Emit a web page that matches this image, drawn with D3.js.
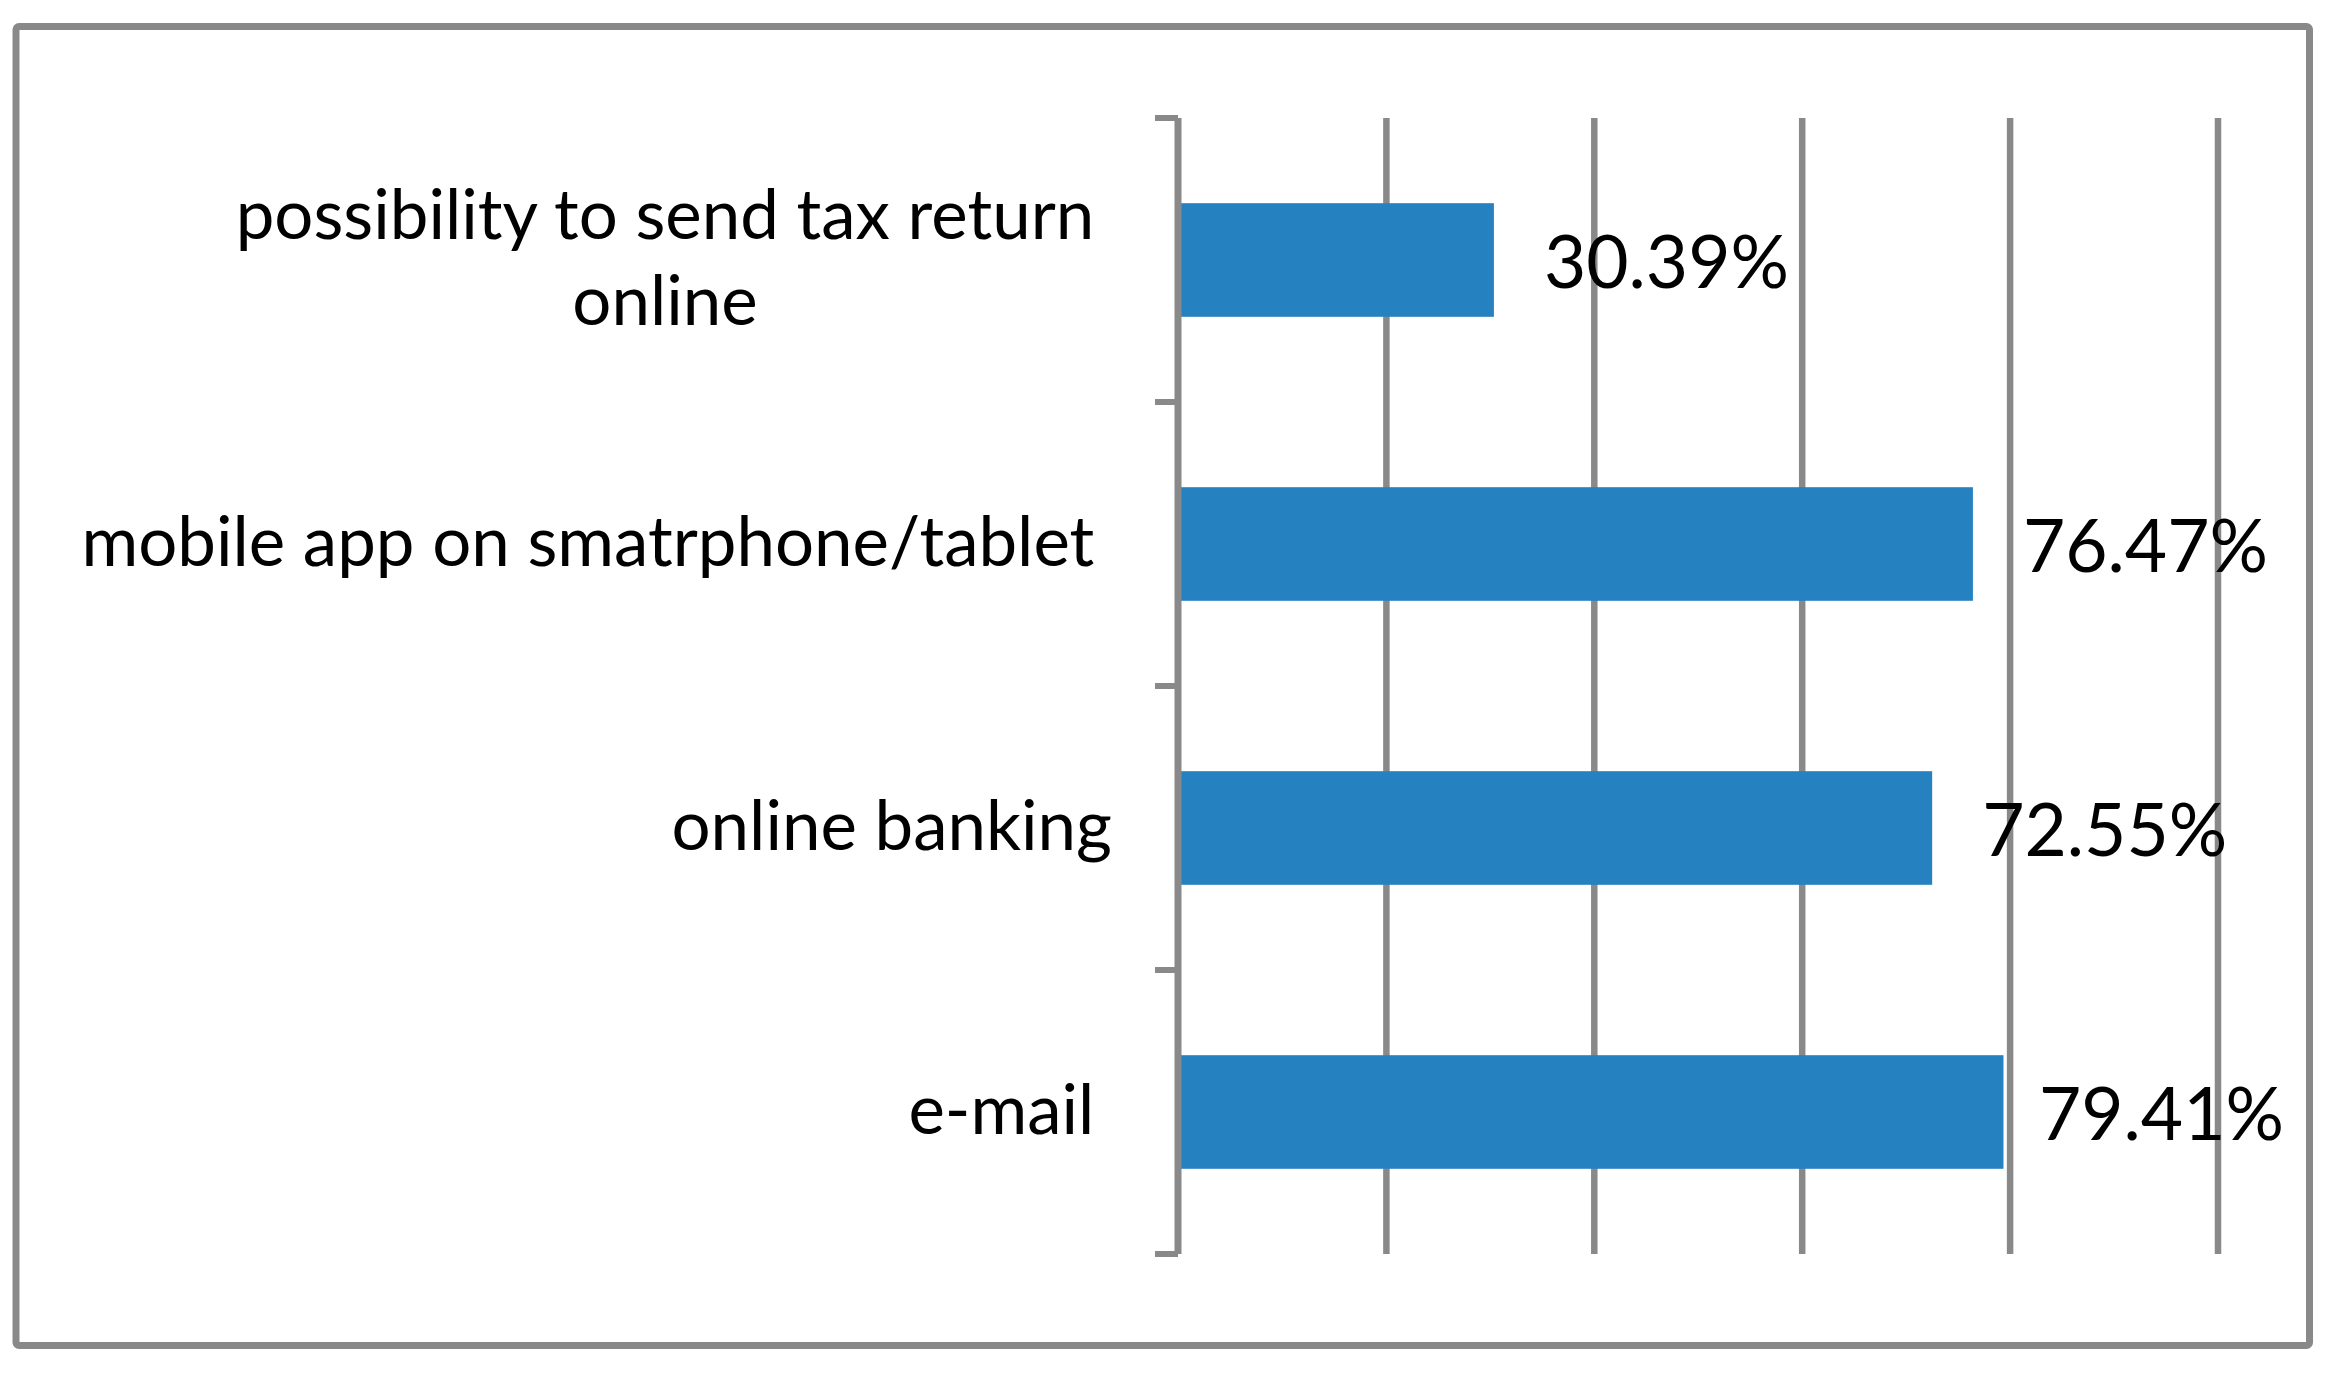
<!DOCTYPE html>
<html lang="en">
<head>
    <meta charset="UTF-8">
    <title>bar chart</title>
    <style>
        body { margin: 0; background: #fff; }
        text { font-family: Lato, "Open Sans", sans-serif; fill: #000; white-space: pre; }
    </style>
</head>
<body>
<div id="chart"></div>
<script src="https://cdn.jsdelivr.net/npm/d3@7/dist/d3.min.js"></script>
<script>
    // data
    const categories = [
        ["possibility to send tax return ", "online"],
        ["mobile app on smatrphone/tablet "],
        ["online banking"],
        ["e-mail "]
    ];
    const values = [30.39, 76.47, 72.55, 79.41];
    const gridTicks = [20, 40, 60, 80, 100];

    const width = 2337, height = 1377;
    const grey = "#898989", blue = "#2581c0";

    let svg = d3.select("#chart")
        .append("svg")
        .attr("width", width)
        .attr("height", height);

    // outer frame
    svg.append("rect")
        .attr("x", 16).attr("y", 26.5)
        .attr("width", 2293.5).attr("height", 1319)
        .attr("rx", 3)
        .attr("fill", "#fff")
        .attr("stroke", grey)
        .attr("stroke-width", 7);

    const x = d3.scaleLinear()
        .domain([0, 100])
        .range([1178, 2217.5]);

    const idx = d3.range(values.length);
    const y = d3.scaleBand()
        .domain(idx)
        .range([118, 1254])
        .padding(0);

    const barH = y.bandwidth() * 0.4;

    // vertical gridlines
    let grid = svg.append("g")
        .attr("transform", `translate(0, ${y.range()[1]})`)
        .call(d3.axisBottom(x)
            .tickValues(gridTicks)
            .tickSize(-(y.range()[1] - y.range()[0]))
            .tickFormat(""));
    grid.select(".domain").remove();
    grid.selectAll(".tick line")
        .attr("stroke", grey)
        .attr("stroke-width", 6.5);

    // bars
    svg.append("g")
        .selectAll("rect")
        .data(idx)
        .join("rect")
        .attr("x", x(0))
        .attr("y", i => y(i) + (y.bandwidth() - barH) / 2)
        .attr("width", i => x(values[i]) - x(0))
        .attr("height", barH)
        .attr("fill", blue);

    // category axis: line + ticks at band edges
    let axis = svg.append("g");
    axis.append("line")
        .attr("x1", x(0)).attr("x2", x(0))
        .attr("y1", y.range()[0]).attr("y2", y.range()[1])
        .attr("stroke", grey)
        .attr("stroke-width", 7);
    const edges = idx.map(i => y(i)).concat([y.range()[1]]);
    axis.selectAll("line.tk")
        .data(edges)
        .join("line")
        .classed("tk", true)
        .attr("x1", x(0) - 23).attr("x2", x(0))
        .attr("y1", d => d).attr("y2", d => d)
        .attr("stroke", grey)
        .attr("stroke-width", 6);

    // category labels
    const labelRight = 1112, lineGap = 86;
    let labels = svg.append("g")
        .style("font-size", "69px");
    idx.forEach(i => {
        const lines = categories[i];
        const cy = y(i) + y.bandwidth() / 2;
        const base = cy + 22 - (lines.length - 1) * lineGap / 2;
        const t = labels.selectAll(null)
            .data(lines)
            .join("text")
            .attr("y", (d, k) => base + k * lineGap)
            .text(d => d.trimEnd());
        if (lines.length === 1) {
            t.text(d => d).attr("x", labelRight).attr("text-anchor", "end");
        } else {
            // wrapped lines are centred on each other, trailing space ignored
            const trimW = d3.max(t.nodes(), n => n.getComputedTextLength());
            t.text(d => d);
            const fullW = t.node().getComputedTextLength();
            const right = labelRight - (fullW - t.node().getComputedTextLength() + (fullW - trimW > 0 ? fullW - trimW : 0));
            t.text(d => d.trimEnd())
                .attr("x", right - trimW / 2)
                .attr("text-anchor", "middle");
        }
    });

    // value labels, kept inside the frame
    const fmt = d3.format(".2f");
    const labelLimit = 2284;
    let vals = svg.append("g")
        .style("font-size", "73px")
        .selectAll("text")
        .data(idx)
        .join("text")
        .attr("y", i => y(i) + y.bandwidth() / 2 + 28)
        .text(i => fmt(values[i]) + "%");
    vals.attr("x", function(i) {
        const w = this.getComputedTextLength();
        return Math.min(x(values[i]) + 50, labelLimit - w);
    });
</script>
</body>
</html>
